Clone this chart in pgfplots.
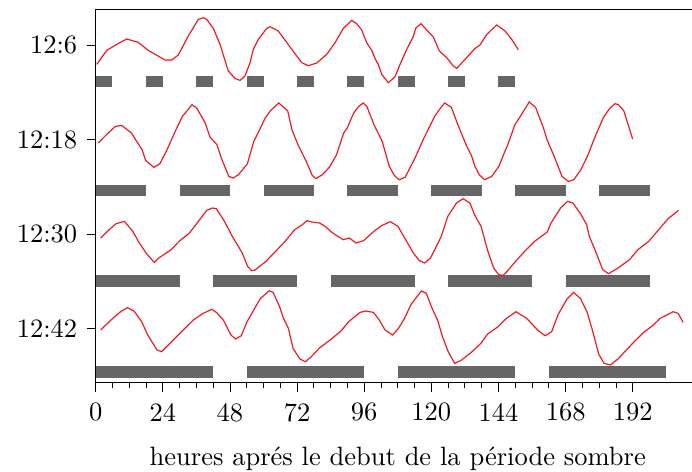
\documentclass[border=0pt]{standalone}
\usepackage{pgfplots}
\pgfplotsset{compat=1.18}
\definecolor{curvered}{RGB}{237,28,36}
\definecolor{bargray}{RGB}{102,102,102}
\font\lmbig="[lmroman10-regular]:mapping=tex-text" at 26.5bp
\begin{document}
\begin{tikzpicture}
\begin{axis}[
  at={(0,0)}, anchor=south west,
  scale only axis,
  width=600bp, height=373bp,
  xmin=0, xmax=214.5,
  ymin=89, ymax=462,
  xtick={0,24,48,72,96,120,144,168,192},
  xticklabels={0,24,48,72,96,120,144,168,192},
  minor x tick num=3,
  ytick={426.3,332,237.7,143.3},
  yticklabels={12:6,12:18,12:30,12:42},
  tick pos=left,
  tick align=outside,
  major tick length=9bp,
  minor tick length=5.5bp,
  axis line style={line width=1.1bp},
  every tick/.style={black, line width=0.9bp},
  tick label style={font=\lmbig},
  xticklabel shift=8bp,
  yticklabel shift=6bp,
  unbounded coords=jump,
  clip=false,
]
% dark periods (bars)
\addplot[bargray, line width=11.7bp] coordinates {
(0,390.2) (6,390.2) (6,nan) (18,390.2) (24,390.2) (24,nan) (36,390.2) (42,390.2) (42,nan)
(54,390.2) (60,390.2) (60,nan) (72,390.2) (78,390.2) (78,nan) (90,390.2) (96,390.2) (96,nan)
(108,390.2) (114,390.2) (114,nan) (126,390.2) (132,390.2) (132,nan) (144,390.2) (150,390.2)
};
\addplot[bargray, line width=11.7bp] coordinates {
(0,281.2) (18,281.2) (18,nan) (30,281.2) (48,281.2) (48,nan) (60,281.2) (78,281.2) (78,nan)
(90,281.2) (108,281.2) (108,nan) (120,281.2) (138,281.2) (138,nan) (150,281.2) (168,281.2) (168,nan)
(180,281.2) (198,281.2)
};
\addplot[bargray, line width=12bp] coordinates {
(0,190.3) (30,190.3) (30,nan) (42,190.3) (72,190.3) (72,nan) (84,190.3) (114,190.3) (114,nan)
(126,190.3) (156,190.3) (156,nan) (168,190.3) (198,190.3)
};
\addplot[bargray, line width=12.3bp] coordinates {
(0,99.8) (42,99.8) (42,nan) (54,99.8) (96,99.8) (96,nan) (108,99.8) (150,99.8) (150,nan)
(162,99.8) (204,99.8)
};
% activity curves
\addplot[curvered, line width=1.2bp] coordinates {
(0.36,407.3) (3.93,421.3) (7.51,427.3) (11.08,432.7) (15.23,429.3) (18.81,421.3) (24.78,411.7) (27.17,411.7) (29.53,416.7) (33.11,435.7) (36.68,452.3) (38.47,454) (39.69,452.3) (42.05,443.3) (44.44,427.3) (47.41,400.7) (49.80,393.3) (51.59,391.3) (53.38,395.7) (55.17,409) (56.35,422.3) (58.13,432.3) (61.14,443.3) (62.32,445) (65.28,440.7) (69.47,424.7) (73.65,409) (76.01,406) (79.01,408.7) (82.59,417.3) (85.56,429) (88.52,443.3) (91.53,451.3) (93.31,448) (95.10,441.7) (96.89,429) (98.68,421.3) (99.86,413) (101.04,407.3) (102.25,397.3) (104.61,389) (107.01,395) (108.80,407.3) (111.19,422.3) (113.34,434) (114.52,444) (116.31,448) (118.34,441.7) (120.70,434.7) (122.85,420.7) (125.49,414) (127.85,405.7) (129.07,403.3) (132.04,412.3) (135.61,423.3) (137.40,426.7) (139.79,437.3) (143.37,446.7) (146.34,440.7) (148.73,432.3) (151.09,422)
};
\addplot[curvered, line width=1.2bp] coordinates {
(0.89,328.7) (3.83,337) (7.02,345.3) (9.31,346.3) (12.76,338.7) (14.67,330.3) (16.58,322) (17.86,311.3) (20.79,304.3) (22.96,308) (25.51,322) (28.70,342) (31.0,355.3) (34.44,367) (36.10,363.7) (39.16,348.7) (40.82,334.7) (43.37,327) (45.03,312.7) (47.58,295.3) (49.11,293.7) (51.02,297) (54.21,307.7) (56.51,330.3) (58.04,338.7) (60.59,353.7) (62.5,361) (65.43,368.7) (68.62,361) (70.15,342) (72.32,327) (75.26,310.3) (77.42,296.3) (78.70,293) (81.0,297) (83.55,304.3) (86.10,317) (88.65,338.7) (89.92,343.7) (92.22,358.7) (94.01,365.3) (95.66,368.7) (96.94,365.3) (99.49,347) (102.42,330.3) (104.97,305.3) (106.76,296.3) (108.42,292) (110.59,294.3) (114.16,313.7) (117.35,333.7) (121.17,355.3) (122.83,362) (124.74,368.7) (127.17,364.3) (129.46,347) (132.65,325.3) (134.31,316.3) (135.59,305.3) (137.12,297) (139.03,292) (141.58,295.3) (144.13,305.3) (146.05,318.7) (147.32,327) (149.87,347) (151.79,355.3) (154.98,369.7) (157.27,364.3) (160.08,343.7) (161.35,332) (163.90,315.3) (166.71,295.3) (169.01,290.3) (170.92,292) (173.47,302) (176.02,317) (178.57,335.3) (181.51,354.3) (183.67,363) (185.59,368) (186.86,367) (188.78,361) (191.96,332.7)
};
\addplot[curvered, line width=1.2bp] coordinates {
(1.78,233.7) (4.51,241.3) (7.25,248) (10.26,250.3) (13.27,240.3) (15.46,229.3) (18.19,218) (20.93,209.3) (22.57,213.7) (26.95,222) (30.10,231) (33.52,238.7) (36.53,249.7) (39.67,261.3) (41.72,263.7) (43.09,263) (45.83,251.3) (48.84,235.3) (52.39,218.7) (54.31,205.3) (55.68,201.3) (56.77,201.3) (60.60,209.7) (64.30,220.3) (67.72,230.3) (71.14,242) (73.87,247) (75.51,251) (77.29,249.7) (80.03,248.7) (82.08,245.3) (84.41,239.3) (86.59,235.3) (88.51,232) (90.70,233.7) (93.02,228.7) (95.76,231) (99.18,239.7) (102.19,246) (105.34,250) (108.07,245.3) (110.81,232) (113.54,218.7) (115.60,211.3) (117.65,208.7) (119.70,213.7) (123.53,235.3) (125.86,255.3) (129.0,268.7) (131.33,273) (133.79,268.7) (135.43,257) (137.76,245.3) (140.22,220.3) (142.27,203.7) (144.05,197) (145.69,196.3) (147.06,200.3) (149.79,209.3) (153.90,222) (156.91,230.3) (161.42,239.7) (162.79,248.7) (166.21,263.7) (168.67,270.3) (170.59,268.7) (173.32,258) (175.51,247) (176.47,235.3) (178.80,219.7) (181.26,202) (183.31,198) (186.73,203.7) (190.83,212) (193.84,222) (197.67,230.3) (201.50,242.7) (204.51,252.7) (208.34,261.3)
};
\addplot[curvered, line width=1.2bp] coordinates {
(1.78,141.7) (5.48,151.7) (8.90,160) (11.37,164) (13.70,160.7) (16.44,150) (18.49,137.3) (21.92,121.7) (23.56,120) (27.40,130.7) (31.51,142.3) (34.93,151.7) (38.36,158.3) (41.51,162.3) (43.15,159.3) (45.62,151.7) (48.36,136.7) (50.0,132.7) (52.05,136) (54.11,150) (56.16,160) (58.90,173.3) (62.05,181) (63.42,179.3) (65.75,165) (67.12,153.3) (68.90,143.3) (70.55,123.3) (73.01,112.7) (74.93,110) (76.71,114) (80.14,124) (84.25,132.7) (87.67,140.7) (90.41,150) (94.52,159.3) (96.58,160.7) (99.32,159.3) (101.37,151.7) (103.42,141.7) (106.16,136.7) (108.22,143.3) (110.27,152.7) (112.74,167.3) (116.44,180.7) (118.22,178.3) (119.86,166) (122.33,150.7) (123.97,135) (126.03,120) (128.36,108.3) (130.82,111.7) (134.25,119.3) (137.67,128.3) (140.14,137.7) (143.84,145) (146.58,152.7) (150.27,160) (154.11,153.3) (157.95,141.7) (160.68,136) (163.01,140) (165.34,157.3) (168.49,172.7) (170.82,179.3) (173.29,173.3) (175.62,160) (177.40,143.3) (179.86,117.3) (181.78,108.3) (183.97,106.7) (186.71,112.7) (189.73,121.7) (192.74,130.7) (195.89,139.3) (199.04,146) (201.78,153.3) (206.44,160) (208.22,158.3) (210.0,149.3)
};
\end{axis}
\node[anchor=base, font=\lmbig, inner sep=0pt] at (302bp,-82.3bp) {heures aprés le debut de la période sombre};
\pgfresetboundingbox
\path[use as bounding box] (-95.7bp,-89.3bp) rectangle (596.3bp,382.7bp);
\end{tikzpicture}
\end{document}
